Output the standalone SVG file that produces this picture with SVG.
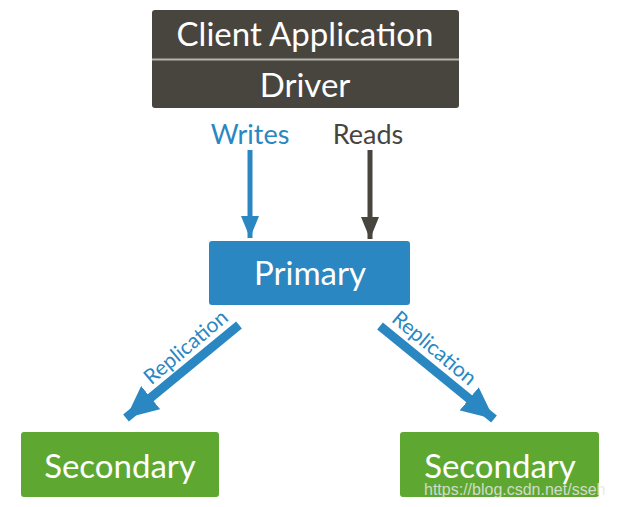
<svg xmlns="http://www.w3.org/2000/svg" width="620" height="507" viewBox="0 0 620 507">
<defs>
<style>
.lbl{font-family:Lato,"Open Sans","Liberation Sans",sans-serif;text-anchor:middle;}
.big{font-size:33px;fill:#fff;}
.rep{font-size:21px;fill:#2a87c2;}
</style>
<marker id="hb" markerUnits="userSpaceOnUse" markerWidth="22" markerHeight="18" refX="22" refY="9" orient="auto" viewBox="0 0 22 18"><path d="M0,0 L22,9 L0,18 Z" fill="#2a87c2"/></marker>
<marker id="hd" markerUnits="userSpaceOnUse" markerWidth="22" markerHeight="18" refX="22" refY="9" orient="auto" viewBox="0 0 22 18"><path d="M0,0 L22,9 L0,18 Z" fill="#48453f"/></marker>
<marker id="hr" markerUnits="userSpaceOnUse" markerWidth="32" markerHeight="30" refX="32" refY="15" orient="auto" viewBox="0 0 32 30"><path d="M0,0 L32,15 L0,30 Z" fill="#2a87c2"/></marker>
</defs>
<rect width="620" height="507" fill="#fff"/>
<g id="client">
<rect x="152" y="10" width="307" height="98" rx="3" fill="#48453f"/>
<line x1="152" y1="59.5" x2="459" y2="59.5" stroke="#b5b3ad" stroke-width="2"/>
<text class="lbl big" x="305" y="46">Client Application</text>
<text class="lbl big" x="305" y="97">Driver</text>
</g>
<g id="primary">
<rect x="209" y="241" width="201" height="64" rx="3" fill="#2a87c2"/>
<text class="lbl big" x="310" y="285">Primary</text>
</g>
<g id="secondary1">
<rect x="21" y="432" width="198" height="65" rx="3" fill="#5ea832"/>
<text class="lbl big" x="120" y="478">Secondary</text>
</g>
<g id="secondary2">
<rect x="400" y="432" width="199" height="65" rx="3" fill="#5ea832"/>
<text class="lbl big" x="500" y="478">Secondary</text>
</g>
<g id="connectors">
<line x1="250" y1="150" x2="250" y2="238" stroke="#2a87c2" stroke-width="5" marker-end="url(#hb)"/>
<line x1="370" y1="150" x2="370" y2="239" stroke="#48453f" stroke-width="5" marker-end="url(#hd)"/>
<text class="lbl" x="250" y="144" font-size="27" fill="#2a87c2">Writes</text>
<text class="lbl" x="368" y="144" font-size="27" fill="#48453f">Reads</text>
<line x1="239" y1="325" x2="126" y2="418" stroke="#2a87c2" stroke-width="9" marker-end="url(#hr)"/>
<line x1="380" y1="326" x2="494" y2="419" stroke="#2a87c2" stroke-width="9" marker-end="url(#hr)"/>
<text class="lbl rep" transform="translate(189,351) rotate(-40)" y="2">Replication</text>
<text class="lbl rep" transform="translate(431,352) rotate(40)" y="2">Replication</text>
</g>
<text x="424" y="495" font-family="Liberation Sans,Arial,sans-serif" font-size="16" fill="#e6e6e6" fill-opacity="0.85">https://blog.csdn.net/sseh</text>
</svg>
